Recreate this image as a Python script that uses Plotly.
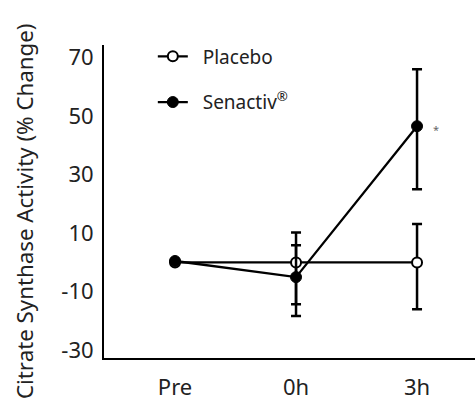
import plotly.graph_objects as go

timepoints = ["Pre", "0h", "3h"]
placebo = [0, 0, 0]
placebo_err_plus = [0, 10.2, 13.1]
placebo_err_minus = [0, 14.3, 16.0]
senactiv = [0.5, -5.0, 46.5]
senactiv_err_plus = [0, 10.9, 19.4]
senactiv_err_minus = [0, 13.3, 21.5]
y_ticks = [70, 50, 30, 10, -10, -30]

FONT = "Noto Sans"
PAD = "\u00a0" * 2

fig = go.Figure()
fig.add_trace(go.Scatter(
    x=timepoints, y=placebo, name=PAD + "Placebo", mode="lines+markers",
    line=dict(color="black", width=2.3),
    marker=dict(symbol="circle", size=10, color="white", line=dict(color="black", width=2)),
    error_y=dict(type="data", symmetric=False, array=placebo_err_plus,
                 arrayminus=placebo_err_minus, color="black", thickness=2.5, width=5),
    legendgroup="a",
))
fig.add_trace(go.Scatter(
    x=timepoints, y=senactiv, name=PAD + "Senactiv<sup>®</sup>", mode="lines+markers",
    line=dict(color="black", width=2.3),
    marker=dict(symbol="circle", size=11, color="black", line=dict(color="black", width=1)),
    error_y=dict(type="data", symmetric=False, array=senactiv_err_plus,
                 arrayminus=senactiv_err_minus, color="black", thickness=2.5, width=5),
    legendgroup="b",
))

fig.add_annotation(x="3h", y=senactiv[2], text="*", showarrow=False, xshift=19, yshift=-3,
                   font=dict(family=FONT, size=11, color="#666"))

# y-axis title as rotated annotation (paper coordinates)
fig.add_annotation(text="Citrate Synthase Activity (% Change)", textangle=-90,
                   xref="paper", yref="paper", x=-0.2156, y=0.4696,
                   xanchor="center", yanchor="middle", showarrow=False,
                   font=dict(family=FONT, size=22.3, color="#222"))

fig.update_layout(
    width=475, height=415,
    margin=dict(l=104, r=0, t=45, b=57),
    paper_bgcolor="white", plot_bgcolor="white",
    font=dict(family=FONT, size=22, color="#222"),
    showlegend=True,
    legend=dict(x=0.1316, y=1.024, xanchor="left", yanchor="top", bgcolor="rgba(0,0,0,0)",
                font=dict(family=FONT, size=19, color="#222"), tracegroupgap=18,
                traceorder="grouped"),
    xaxis=dict(range=[-0.587, 2.479], showline=True, linecolor="black", linewidth=2,
               showgrid=False, zeroline=False, ticks="outside", ticklen=9,
               tickcolor="rgba(0,0,0,0)", tickfont=dict(size=22)),
    yaxis=dict(range=[-32.6, 74.2], showline=True, linecolor="black", linewidth=2,
               showgrid=False, zeroline=False, tickvals=y_ticks,
               ticktext=[str(v) for v in y_ticks], ticks="outside", ticklen=4,
               tickcolor="rgba(0,0,0,0)", tickfont=dict(size=22)),
)

fig.write_html("out.html")
